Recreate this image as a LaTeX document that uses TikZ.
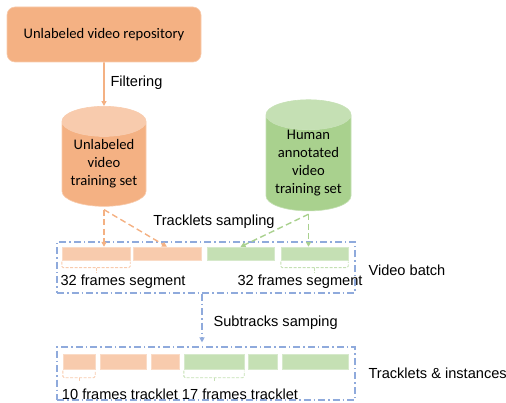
\documentclass[tikz,border=0pt]{standalone}
\usepackage{fontspec}
\setmainfont{Liberation Sans}
\newfontfamily\calibri{Carlito}
\usetikzlibrary{shapes.geometric,arrows.meta}
\definecolor{orgdark}{HTML}{F4B183}
\definecolor{orglight}{HTML}{F8CBAD}
\definecolor{grndark}{HTML}{A9D18E}
\definecolor{grnlight}{HTML}{C5E0B4}
\definecolor{batchblue}{HTML}{8FAADC}
\tikzset{
  seg/.style={draw=#1!70!white,fill=#1,line width=0.4pt,inner sep=0pt},
  store/.style={cylinder,shape border rotate=90,aspect=0.45,draw=#1light,
    line width=0.6pt,cylinder uses custom fill,cylinder body fill=#1dark,
    cylinder end fill=#1light,align=center,
    font=\calibri\fontsize{14.6}{18}\selectfont,inner sep=0pt},
  batchbox/.style={draw=batchblue,line width=1.1pt,
    dash pattern=on 7pt off 3pt on 1.5pt off 3pt,inner sep=0pt},
  feed/.style={draw=#1,line width=1.4pt,dash pattern=on 6pt off 3.5pt,
    -{Triangle[length=5pt,width=5pt]}},
  brace/.style={draw=#1,line width=0.9pt,dash pattern=on 3pt off 1.5pt,rounded corners=1.5pt},
}
\begin{document}
\begin{tikzpicture}[x=1pt,y=-1pt,font=\fontsize{14.6}{18}\selectfont]
\useasboundingbox (0,0) rectangle (506,403);
%%
  \node (repo) at (104,34.5) [draw=orglight,fill=orgdark,rounded corners=8pt,line width=0.6pt,
    minimum width=194pt,minimum height=55pt,font=\calibri\fontsize{14.6}{18}\selectfont]
    {Unlabeled video repository};
  \node (ucyl) at (104,164) [store=org,minimum width=84pt,minimum height=100pt]
    {Unlabeled\\video\\training set};
  \node (hcyl) at (308.5,163) [store=grn,minimum width=85pt,minimum height=98pt]
    {Human\\annotated\\video\\training set};

  \node (batch) at (206,267.5) [batchbox,minimum width=298pt,minimum height=51pt] {};
  \node (inst)  at (206,373.5) [batchbox,minimum width=298pt,minimum height=53pt] {};

  % video batch segments
  \node (s1) at (96,253.5)    [seg=orglight,minimum width=68pt,minimum height=13pt] {};
  \node (s2) at (167,253.5)   [seg=orglight,minimum width=68pt,minimum height=13pt] {};
  \node (s3) at (240.5,253.5) [seg=grnlight,minimum width=67pt,minimum height=13pt] {};
  \node (s4) at (314.5,253.5) [seg=grnlight,minimum width=67pt,minimum height=13pt] {};

  % tracklets
  \node (t1) at (79,361.5)    [seg=orglight,minimum width=32pt,minimum height=15pt] {};
  \node (t2) at (123,361.5)   [seg=orglight,minimum width=46pt,minimum height=15pt] {};
  \node (t3) at (165,361.5)   [seg=orglight,minimum width=28pt,minimum height=15pt] {};
  \node (t4) at (214,361.5)   [seg=grnlight,minimum width=60pt,minimum height=15pt] {};
  \node (t5) at (262.5,361.5) [seg=grnlight,minimum width=29pt,minimum height=15pt] {};
  \node (t6) at (315,361.5)   [seg=grnlight,minimum width=66pt,minimum height=15pt] {};

  % labels
  \node (filt)  at (107,83)  [anchor=west] {Filtering};
  \node (samp)  at (214,222) {Tracklets sampling};
  \node (vb)    at (365,270) [anchor=west] {Video batch};
  \node (sub)   at (210,323) [anchor=west] {Subtracks samping};
  \node (ti)    at (365,373) [anchor=west] {Tracklets \& instances};
  \node (lseg)  at (123,282) {32 frames segment};
  \node (rseg)  at (300,282) {32 frames segment};
  \node (ltr)   at (120,394) {10 frames tracklet};
  \node (rtr)   at (240,394) {17 frames tracklet};

  % connectors
  \draw [draw=orgdark,line width=1.6pt,-{Triangle[length=5pt,width=5pt]}] (repo) -- (ucyl.north);
  \draw [feed=orgdark] ([yshift=-3pt]ucyl.south) -- (ucyl.south |- s1.north);
  \draw [feed=orgdark] ([yshift=-3pt]ucyl.south) -- (s2.north);
  \draw [feed=grndark] ([yshift=-3pt]hcyl.south) -- (hcyl.south |- s4.north);
  \draw [feed=grndark] ([yshift=-3pt]hcyl.south) -- (s3.north);
  \draw [batchbox,-{Triangle[length=5pt,width=5pt]},shorten >=4pt]
    ([xshift=-4pt]batch.south) -- ([xshift=-4pt]inst.north);

  % brackets
  \draw [brace=orglight] ([yshift=-1.5pt]s1.south west) -- ++(0,6) -| ([yshift=-1.5pt]s1.south east);
  \draw [brace=orglight] ([yshift=-7.5pt]s1.south) -- ++(0,5);
  \draw [brace=grnlight] ([yshift=-1.5pt]s4.south west) -- ++(0,6) -| ([yshift=-1.5pt]s4.south east);
  \draw [brace=grnlight] ([yshift=-7.5pt]s4.south) -- ++(0,5);
  \draw [brace=orglight] ([yshift=-1.5pt]t1.south west) -- ++(0,7) -| ([yshift=-1.5pt]t1.south east);
  \draw [brace=orglight] ([yshift=-8.5pt]t1.south) -- ++(0,4);
  \draw [brace=grnlight] ([yshift=-1.5pt]t4.south west) -- ++(0,7) -| ([yshift=-1.5pt]t4.south east);
  \draw [brace=grnlight] ([yshift=-8.5pt]t4.south) -- ++(0,4);
%
\end{tikzpicture}
\end{document}
